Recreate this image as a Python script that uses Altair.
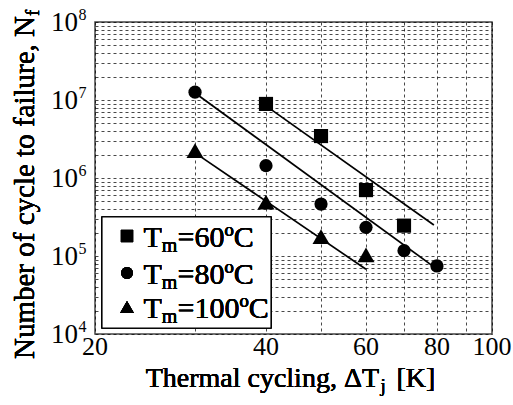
import altair as alt
import pandas as pd

# ---- data ----
series = ["Tm=60ºC", "Tm=80ºC", "Tm=100ºC"]
legend_temps = ["60", "80", "100"]

dt_60 = [40, 50, 60, 70]
nf_60 = [8.9e6, 3.45e6, 7.0e5, 2.45e5]
dt_80 = [30, 40, 50, 60, 70, 80]
nf_80 = [1.26e7, 1.44e6, 4.64e5, 2.33e5, 1.17e5, 7.45e4]
dt_100 = [30, 40, 50, 60]
nf_100 = [2.24e6, 4.9e5, 1.77e5, 1.03e5]

fit_dt_60 = [40, 79]
fit_nf_60 = [8.4e6, 2.5e5]
fit_dt_80 = [30, 80]
fit_nf_80 = [1.23e7, 6.8e4]
fit_dt_100 = [30, 60]
fit_nf_100 = [2.1e6, 6.76e4]

x_grid = [20, 30, 40, 50, 60, 70, 80, 90, 100]
x_labels = [20, 40, 60, 80, 100]
y_decades = [1e4, 1e5, 1e6, 1e7, 1e8]
y_exps = ["4", "5", "6", "7", "8"]

# ---- tables ----
pts = pd.DataFrame({
    "dt": dt_60 + dt_80 + dt_100,
    "nf": nf_60 + nf_80 + nf_100,
    "series": [series[0]] * len(dt_60) + [series[1]] * len(dt_80) + [series[2]] * len(dt_100),
})
fits = pd.DataFrame({
    "dt": fit_dt_60 + fit_dt_80 + fit_dt_100,
    "nf": fit_nf_60 + fit_nf_80 + fit_nf_100,
    "series": [series[0]] * 2 + [series[1]] * 2 + [series[2]] * 2,
})
ylab = pd.DataFrame({"nf": y_decades, "exp": y_exps, "ten": ["10"] * len(y_decades)})
xlab = pd.DataFrame({"dt": x_labels, "lab": [str(v) for v in x_labels]})

FONT = "Liberation Serif, Times New Roman, Times, serif"
FW = "normal"
W, H = 397, 312

y_grid = [m * 10 ** k for k in range(4, 8) for m in range(1, 10)] + [1e8]

xscale = alt.Scale(type="log", domain=[20, 100], nice=False)
yscale = alt.Scale(type="log", domain=[1e4, 1e8], nice=False)

X = alt.X("dt:Q", scale=xscale,
          axis=alt.Axis(values=x_grid, labels=False, ticks=False, domain=False, title=None,
                        grid=True, gridColor="black", gridDash=[3, 3], gridWidth=0.8, gridOpacity=0.9))
Y = alt.Y("nf:Q", scale=yscale,
          axis=alt.Axis(values=y_grid, labels=False, ticks=False, domain=False, title=None,
                        grid=True, gridColor="black", gridDash=[3, 3], gridWidth=0.8, gridOpacity=0.9))

lines = alt.Chart(fits).mark_line(color="black", strokeWidth=1.7).encode(
    x=X, y=Y, detail="series:N")

shapes = ["square", "circle", "triangle-up"]
sizes = [200, 175, 290]
point_layers = [
    alt.Chart(pts).transform_filter(alt.datum.series == s).mark_point(
        filled=True, color="black", opacity=1, shape=shapes[i], size=sizes[i]).encode(x=X, y=Y)
    for i, s in enumerate(series)
]


def txt(**kw):
    return dict(font=FONT, fontWeight=FW, color="black", baseline="alphabetic", **kw)


# y tick labels 10^k
ten = alt.Chart(ylab).mark_text(**txt(fontSize=27, align="right", dy=9)).encode(
    x=alt.value(-17), y=Y, text="ten:N")
sup = alt.Chart(ylab).mark_text(**txt(fontSize=16, align="left", dy=-2.5)).encode(
    x=alt.value(-16.5), y=Y, text="exp:N")

# x tick labels
xt = alt.Chart(xlab).mark_text(**txt(fontSize=26, align="center")).encode(
    x=X, y=alt.value(H + 21), text="lab:N")

# x title with subscript j
xt1 = alt.Chart(xlab).mark_text(**txt(fontSize=28, align="right", text="Thermal cycling, ΔT")).encode(
    x=alt.value(284), y=alt.value(H + 53))
xt2 = alt.Chart(xlab).mark_text(**txt(fontSize=19, align="left", text="j")).encode(
    x=alt.value(285.5), y=alt.value(H + 58))
xt3 = alt.Chart(xlab).mark_text(**txt(fontSize=28, align="left", text="[K]")).encode(
    x=alt.value(301.5), y=alt.value(H + 53))

# y title with subscript f
yt1 = alt.Chart(xlab).mark_text(**txt(fontSize=29, align="left", angle=270,
                                      text="Number of cycle to failure, N")).encode(
    x=alt.value(-61), y=alt.value(337))
yt2 = alt.Chart(xlab).mark_text(**txt(fontSize=19, align="left", angle=270, text="f")).encode(
    x=alt.value(-56), y=alt.value(-6))

# legend box
box = alt.Chart(xlab).mark_rect(fill="white", stroke="black", strokeWidth=1.2).encode(
    x=alt.value(7), x2=alt.value(176), y=alt.value(195), y2=alt.value(306))

layers = [lines] + point_layers + [ten, sup, xt, xt1, xt2, xt3, yt1, yt2, box]

sym_sizes = [150, 140, 190]
row_sym_y = [214, 251, 285]
row_base_y = [225, 261.5, 296]
for i, temp in enumerate(legend_temps):
    layers.append(alt.Chart(xlab).mark_point(filled=True, color="black", opacity=1,
                                             shape=shapes[i], size=sym_sizes[i]).encode(
        x=alt.value(32), y=alt.value(row_sym_y[i])))
    layers.append(alt.Chart(xlab).mark_text(**txt(fontSize=30, align="left", text="T")).encode(
        x=alt.value(48.5), y=alt.value(row_base_y[i])))
    layers.append(alt.Chart(xlab).mark_text(**txt(fontSize=20, align="left", text="m")).encode(
        x=alt.value(66.8), y=alt.value(row_base_y[i] + 5)))
    layers.append(alt.Chart(xlab).mark_text(**txt(fontSize=30, align="left",
                                                  text="=" + temp + "ºC")).encode(
        x=alt.value(82.5), y=alt.value(row_base_y[i])))

chart = alt.layer(*layers).properties(
    width=W, height=H,
    autosize=alt.AutoSizeParams(type="none"),
    padding={"left": 95, "top": 22, "right": 21, "bottom": 71},
    background="white",
).configure_view(stroke="#444", strokeWidth=1.5)

chart.save("out.html", embed_options={"renderer": "svg", "actions": False})
